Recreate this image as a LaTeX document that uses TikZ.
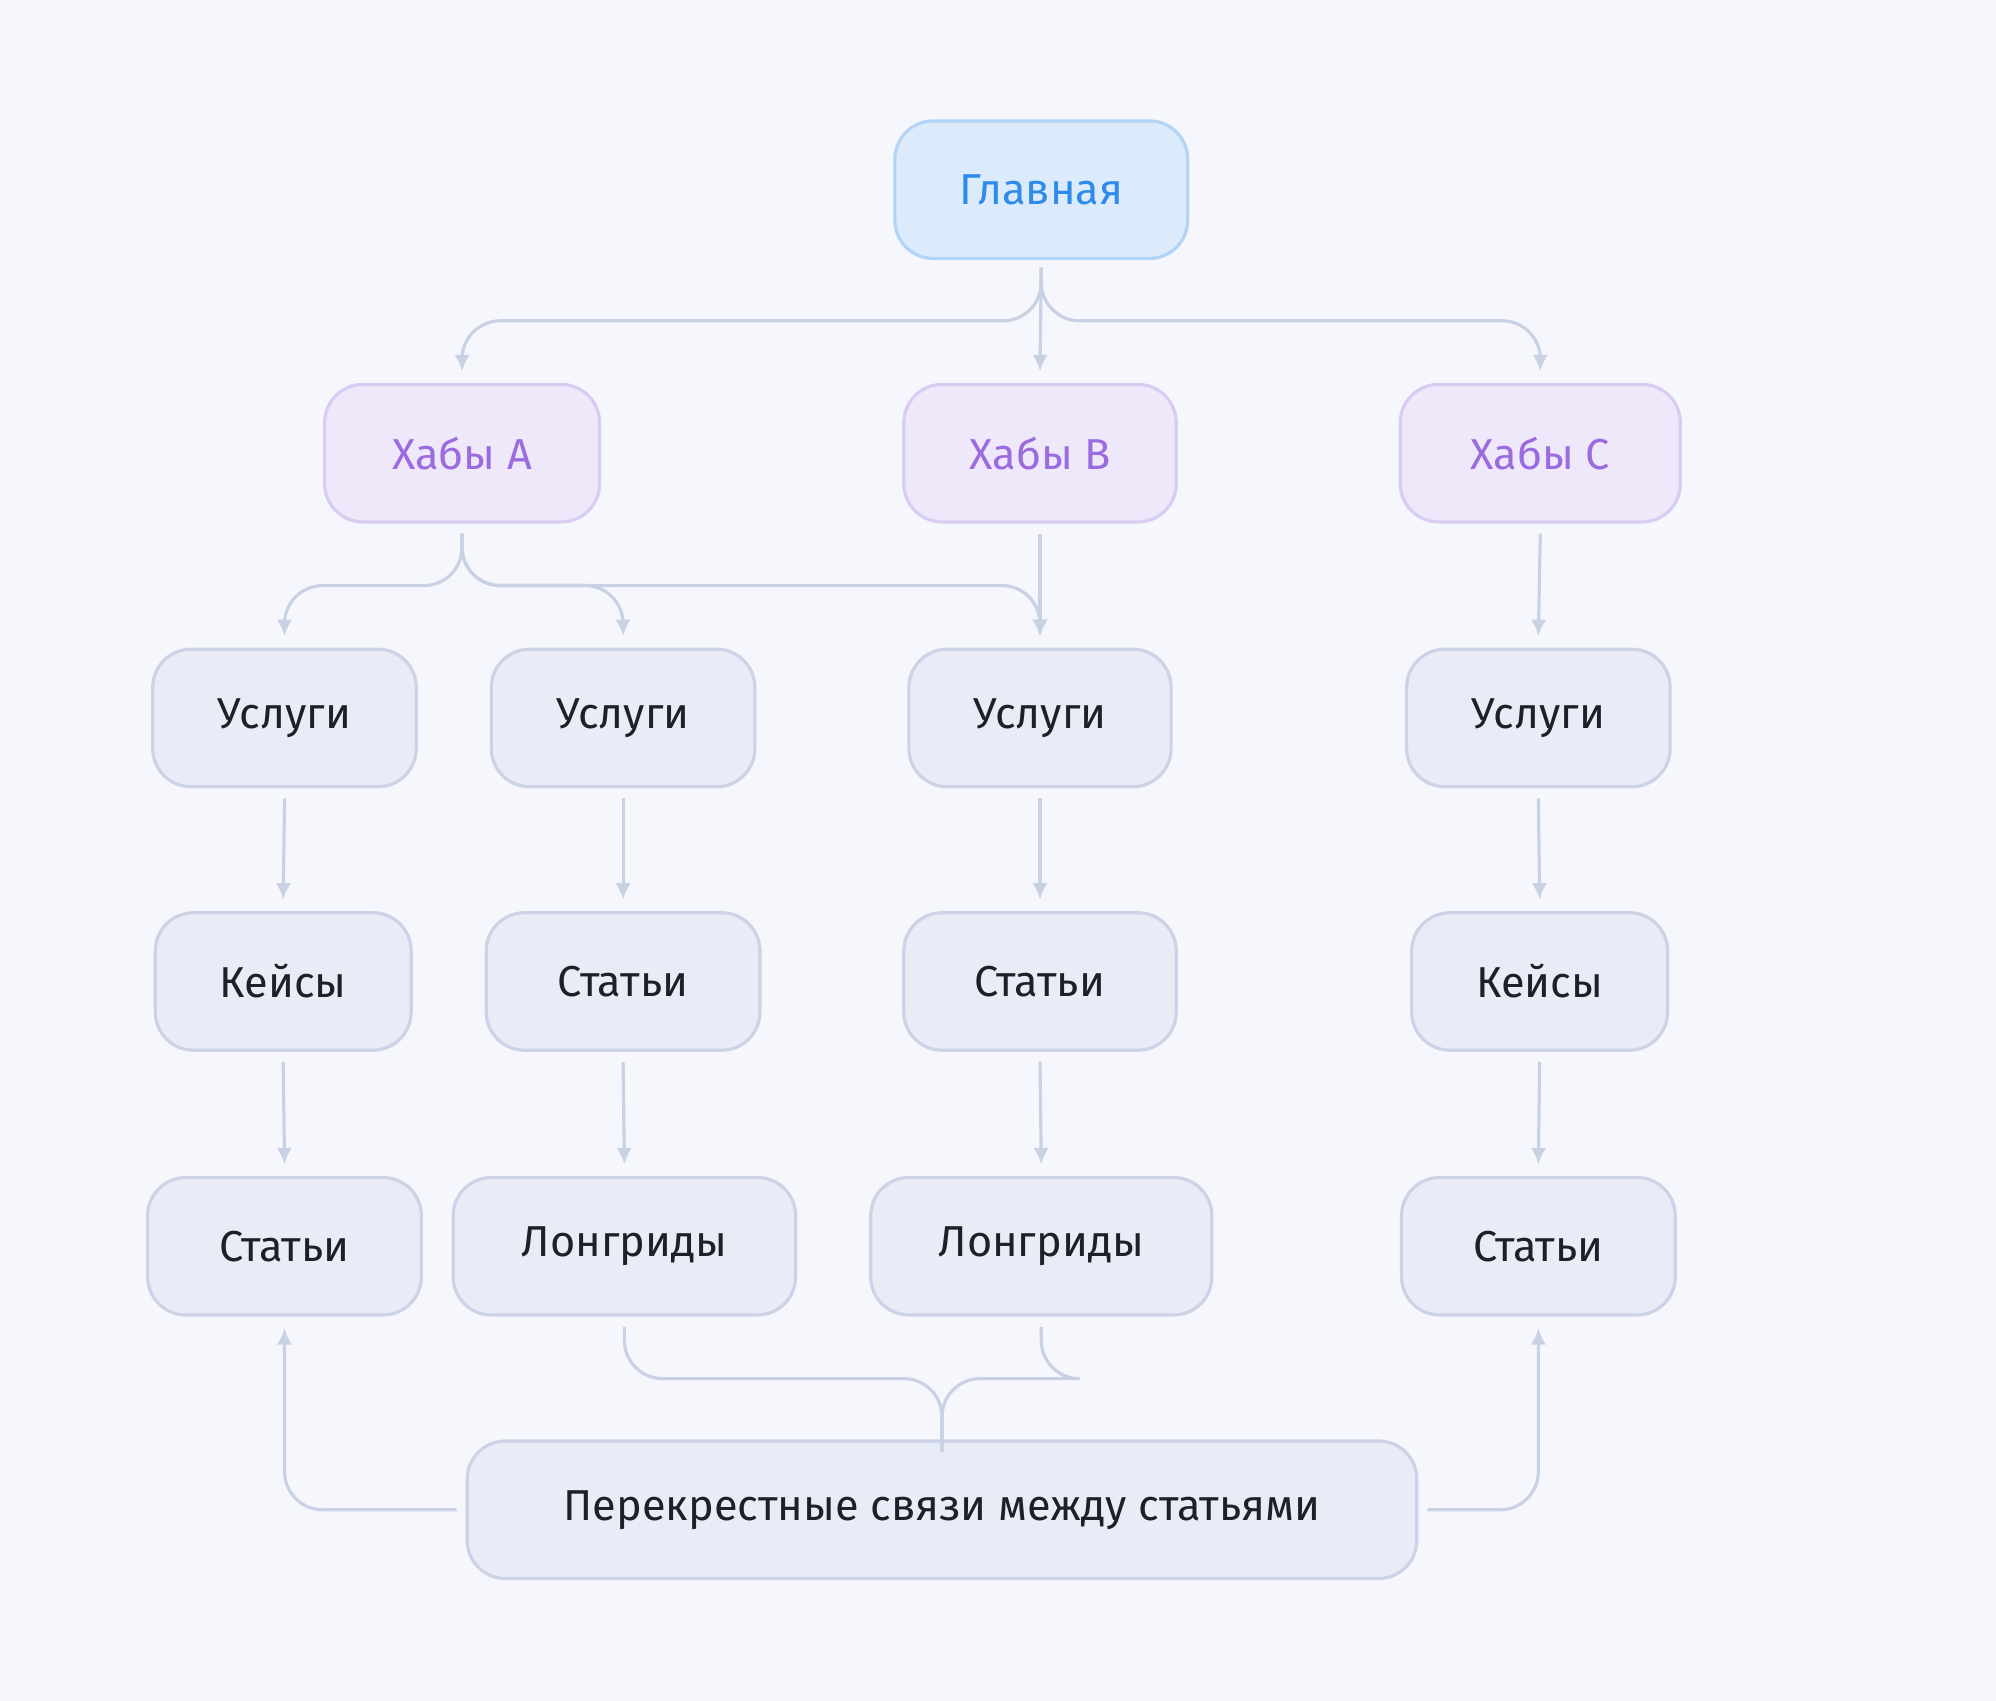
\documentclass[tikz,border=0pt]{standalone}
\usepackage{fontspec}
\setmainfont{Fira Sans}
\usetikzlibrary{arrows.meta}
\definecolor{bg}{HTML}{F5F7FC}
\definecolor{gfill}{HTML}{E9ECF6}
\definecolor{gline}{HTML}{CDD3E6}
\definecolor{bfill}{HTML}{DCEBFB}
\definecolor{bline}{HTML}{B3D4F5}
\definecolor{btext}{HTML}{2E8BEA}
\definecolor{pfill}{HTML}{EEE8FA}
\definecolor{pline}{HTML}{D9CCF3}
\definecolor{ptext}{HTML}{9B6BE0}
\definecolor{conn}{HTML}{C8D2E4}
\definecolor{txt}{HTML}{1F1F2A}
\begin{document}
\begin{tikzpicture}[x=1pt,y=-1pt,
  box/.style={draw=gline,fill=gfill,line width=2.5pt,rounded corners=30pt,minimum height=108pt,text=txt,font=\fontsize{34}{40}\selectfont,inner sep=0pt},
  blue/.style={box,draw=bline,fill=bfill,text=btext},
  hub/.style={box,draw=pline,fill=pfill,text=ptext},
  c/.style={draw=conn,line width=2.5pt,rounded corners=30pt,-{Latex[length=13pt,width=12pt]}},
  cn/.style={draw=conn,line width=2.5pt,rounded corners=30pt}]
\fill[bg] (0,0) rectangle (1568,1336);
\useasboundingbox (0,0) rectangle (1568,1336);
\node[blue,minimum width=230pt] (g) at (818,149) {Главная};
\node[hub,minimum width=216pt] (ha) at (363,356) {Хабы A};
\node[hub,minimum width=214pt] (hb) at (817,356) {Хабы B};
\node[hub,minimum width=220pt] (hc) at (1210,356) {Хабы C};
\node[box,minimum width=207pt] (u1) at (223.5,564) {Услуги};
\node[box,minimum width=207pt] (u2) at (489.5,564) {Услуги};
\node[box,minimum width=206pt] (u3) at (817,564) {Услуги};
\node[box,minimum width=207pt] (u4) at (1208.5,564) {Услуги};
\node[box,minimum width=201pt] (k1) at (222.5,771) {Кейсы};
\node[box,minimum width=215pt] (s2) at (489.5,771) {Статьи};
\node[box,minimum width=214pt] (s3) at (817,771) {Статьи};
\node[box,minimum width=201pt] (k4) at (1209.5,771) {Кейсы};
\node[box,minimum width=215pt] (s1) at (223.5,979) {Статьи};
\node[box,minimum width=269pt] (l2) at (490.5,979) {Лонгриды};
\node[box,minimum width=268pt] (l3) at (818,979) {Лонгриды};
\node[box,minimum width=215pt] (s4) at (1208.5,979) {Статьи};
\node[box,minimum width=746pt] (x) at (740,1186) {Перекрестные связи между статьями};
% top
\draw[c] ([yshift=-6pt]g.south) |- (590,252) -| ([yshift=9pt]ha.north);
\draw[c] ([yshift=-6pt]g.south) |- (1000,252) -| ([yshift=9pt]hc.north);
\draw[c] ([yshift=-6pt]g.south) -- ([yshift=9pt]hb.north);
% hub A
\draw[c] ([yshift=-8pt]ha.south) |- (300,460) -| ([yshift=9pt]u1.north);
\draw[c] ([yshift=-8pt]ha.south) |- (420,460) -| ([yshift=9pt]u2.north);
\draw[c] ([yshift=-8pt]ha.south) |- (600,460) -| ([yshift=9pt]u3.north);
\draw[c] ([yshift=-8pt]hb.south) -- ([yshift=9pt]u3.north);
\draw[c] ([yshift=-8pt]hc.south) -- ([yshift=9pt]u4.north);
% verticals
\foreach \a/\b in {u1/k1,u2/s2,u3/s3,u4/k4,k1/s1,s2/l2,s3/l3,k4/s4}
  \draw[c] ([yshift=-8pt]\a.south) -- ([yshift=9pt]\b.north);
% bottom merge
\coordinate (m) at ([yshift=-10pt]x.north);
\draw[cn] ([yshift=-8pt]l2.south) |- (620,1083) -| (m);
\draw[cn] ([yshift=-8pt]l3.south) |- (860,1083) -| (m);
\draw[c] ([xshift=-7pt]x.west) -| ([yshift=-9pt]s1.south);
\draw[c] ([xshift=7pt]x.east) -| ([yshift=-9pt]s4.south);
\end{tikzpicture}
\end{document}
